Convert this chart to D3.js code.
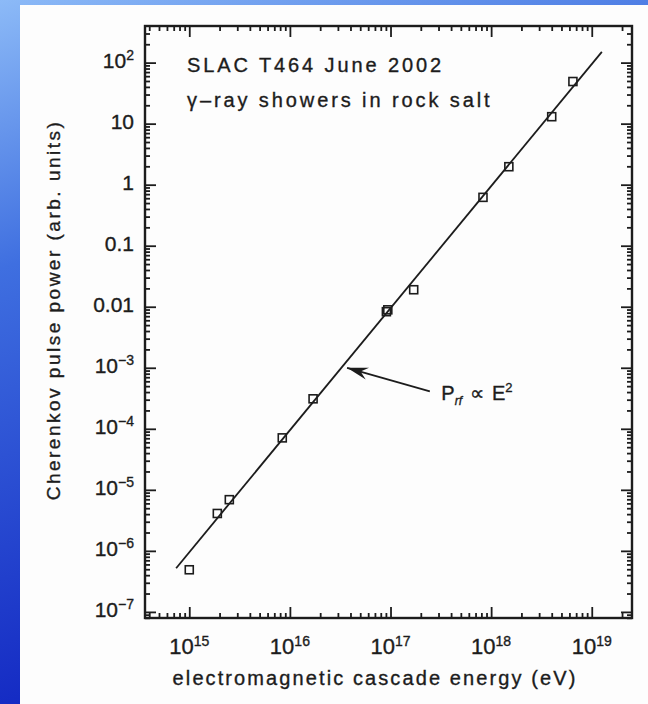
<!DOCTYPE html>
<html>
<head>
<meta charset="utf-8">
<script src="https://cdn.jsdelivr.net/npm/d3@7/dist/d3.min.js"></script>
<style>
  html, body { margin: 0; padding: 0; background: #1530c8; }
  svg { display: block; }
  text { font-family: "Liberation Sans", Arial, sans-serif; fill: #1c1c1c; stroke: #1c1c1c; stroke-width: 0.35px; }
</style>
</head>
<body>
<svg id="chart" width="648" height="704"></svg>
<script>
// measured data (energy in eV, power in arb. units)
var energy = [1.0e15, 1.9e15, 2.5e15, 8.4e15, 1.7e16, 9.1e16, 9.4e16, 1.7e17, 8.3e17, 1.5e18, 4.0e18, 6.5e18];
var power = [4.9e-7, 4.1e-6, 6.9e-6, 7.1e-5, 3.1e-4, 8.3e-3, 8.9e-3, 0.019, 0.62, 1.97, 13, 49];

// P ~ E^2 fit line end points
var fitE = [7.4e14, 1.26e19];
var fitP = [5.2e-7, 1.5e2];

var xMajor = [1e15, 1e16, 1e17, 1e18, 1e19];
var xTickSup = ["15", "16", "17", "18", "19"];
var yMajor = [1e2, 10, 1, 0.1, 0.01, 1e-3, 1e-4, 1e-5, 1e-6, 1e-7];
var yTickBase = ["10", "10", "1", "0.1", "0.01", "10", "10", "10", "10", "10"];
var yTickSup = ["2", "", "", "", "", "\u22123", "\u22124", "\u22125", "\u22126", "\u22127"];

function drawchart() {
  var svg = d3.select("#chart");

  // blue slide background + white panel
  var defs = svg.append("defs");
  var grad = defs.append("linearGradient").attr("id", "bg")
    .attr("x1", 0).attr("y1", 0).attr("x2", 0.3).attr("y2", 1);
  grad.append("stop").attr("offset", "0%").attr("stop-color", "#8cbaf7");
  grad.append("stop").attr("offset", "35%").attr("stop-color", "#3f6fe0");
  grad.append("stop").attr("offset", "100%").attr("stop-color", "#0f22c0");
  svg.append("rect").attr("width", 648).attr("height", 704).attr("fill", "url(#bg)");
  svg.append("rect").attr("x", 20).attr("y", 5).attr("width", 628).attr("height", 699).attr("fill", "#fdfdfd");

  var pl = 145, pr = 632, pt = 26, pb = 618;

  var x = d3.scaleLog().domain([Math.pow(10, 14.56), Math.pow(10, 19.4)]).range([pl, pr]);
  var y = d3.scaleLog().domain([Math.pow(10, -7.1), Math.pow(10, 2.6)]).range([pb, pt]);

  function minors(scale) {
    var d = scale.domain(), out = [];
    for (var e = Math.floor(Math.log10(d[0])); e <= Math.ceil(Math.log10(d[1])); e++) {
      for (var m = 2; m <= 9; m++) {
        var v = m * Math.pow(10, e);
        if (v >= d[0] && v <= d[1]) out.push(v);
      }
    }
    return out;
  }

  function tickAxis(axis, vals, size, tx, ty) {
    var g = svg.append("g").attr("transform", "translate(" + tx + "," + ty + ")")
      .call(axis.tickValues(vals).tickSize(size).tickFormat(""));
    g.select(".domain").remove();
    g.selectAll(".tick line").attr("stroke", "#1c1c1c").attr("stroke-width", 1.8);
    return g;
  }

  // inward ticks on all four sides
  tickAxis(d3.axisBottom(x), xMajor, -11, 0, pb);
  tickAxis(d3.axisBottom(x), minors(x), -5, 0, pb);
  tickAxis(d3.axisTop(x), xMajor, -11, 0, pt);
  tickAxis(d3.axisTop(x), minors(x), -5, 0, pt);
  tickAxis(d3.axisLeft(y), yMajor, -11, pl, 0);
  tickAxis(d3.axisLeft(y), minors(y), -5, pl, 0);
  tickAxis(d3.axisRight(y), yMajor, -11, pr, 0);
  tickAxis(d3.axisRight(y), minors(y), -5, pr, 0);

  // frame
  svg.append("rect").attr("x", pl).attr("y", pt)
    .attr("width", pr - pl).attr("height", pb - pt)
    .attr("fill", "none").attr("stroke", "#1c1c1c").attr("stroke-width", 2.4);

  // x tick labels
  var xl = svg.append("g").selectAll("text").data(xMajor).enter().append("text")
    .attr("x", function(d) { return x(d); })
    .attr("y", pb + 36)
    .attr("text-anchor", "middle")
    .attr("font-size", 22);
  xl.append("tspan").text("10");
  xl.append("tspan").attr("dy", -8).attr("font-size", 14).text(function(d, i) { return xTickSup[i]; });

  // y tick labels
  var yl = svg.append("g").selectAll("text").data(yMajor).enter().append("text")
    .attr("x", 134)
    .attr("y", function(d) { return y(d) + 5; })
    .attr("text-anchor", "end")
    .attr("font-size", 21);
  yl.append("tspan").text(function(d, i) { return yTickBase[i]; });
  yl.append("tspan").attr("dy", -8).attr("font-size", 14).text(function(d, i) { return yTickSup[i]; });

  // axis titles
  svg.append("text")
    .attr("x", 375).attr("y", 685)
    .attr("text-anchor", "middle").attr("font-size", 20)
    .attr("letter-spacing", 2.1)
    .text("electromagnetic cascade energy (eV)");

  svg.append("text")
    .attr("transform", "translate(60,310) rotate(-90)")
    .attr("text-anchor", "middle").attr("font-size", 19)
    .attr("letter-spacing", 2.5)
    .text("Cherenkov pulse power (arb. units)");

  // fit line
  var line = d3.line()
    .x(function(d) { return x(d[0]); })
    .y(function(d) { return y(d[1]); });
  svg.append("path")
    .datum(d3.zip(fitE, fitP))
    .attr("d", line)
    .attr("fill", "none").attr("stroke", "#1c1c1c").attr("stroke-width", 1.8);

  // data markers: open squares
  svg.append("g").selectAll("rect").data(d3.zip(energy, power)).enter().append("rect")
    .attr("x", function(d) { return x(d[0]) - 4; })
    .attr("y", function(d) { return y(d[1]) - 4; })
    .attr("width", 8).attr("height", 8)
    .attr("fill", "none").attr("stroke", "#1c1c1c").attr("stroke-width", 1.6);

  // header text
  svg.append("text").attr("x", 187).attr("y", 72).attr("font-size", 20)
    .attr("letter-spacing", 2.9).text("SLAC T464 June 2002");
  svg.append("text").attr("x", 187).attr("y", 107).attr("font-size", 20)
    .attr("letter-spacing", 2.9).text("\u03b3\u2013ray showers in rock salt");

  // annotation arrow
  var tip = [x(3.7e16), y(1.0e-3)], tail = [x(2.46e17), y(4.1e-4)];
  svg.append("line")
    .attr("x1", tail[0]).attr("y1", tail[1]).attr("x2", tip[0]).attr("y2", tip[1])
    .attr("stroke", "#1c1c1c").attr("stroke-width", 1.8);
  var ang = Math.atan2(tail[1] - tip[1], tail[0] - tip[0]);
  var head = [tip,
    [tip[0] + 22 * Math.cos(ang - 0.28), tip[1] + 22 * Math.sin(ang - 0.28)],
    [tip[0] + 14 * Math.cos(ang), tip[1] + 14 * Math.sin(ang)],
    [tip[0] + 22 * Math.cos(ang + 0.28), tip[1] + 22 * Math.sin(ang + 0.28)]];
  svg.append("path").attr("d", "M" + head.join("L") + "Z").attr("fill", "#1c1c1c");

  var ann = svg.append("text").attr("x", x(3.2e17)).attr("y", y(3e-4)).attr("font-size", 20);
  ann.append("tspan").text("P");
  ann.append("tspan").attr("dy", 5).attr("font-size", 12).attr("font-style", "italic").text("rf");
  ann.append("tspan").attr("dy", -5).attr("dx", 8).text("\u221d");
  ann.append("tspan").attr("dx", 8).text("E");
  ann.append("tspan").attr("dy", -8).attr("font-size", 13).text("2");
}

drawchart();
</script>
</body>
</html>
